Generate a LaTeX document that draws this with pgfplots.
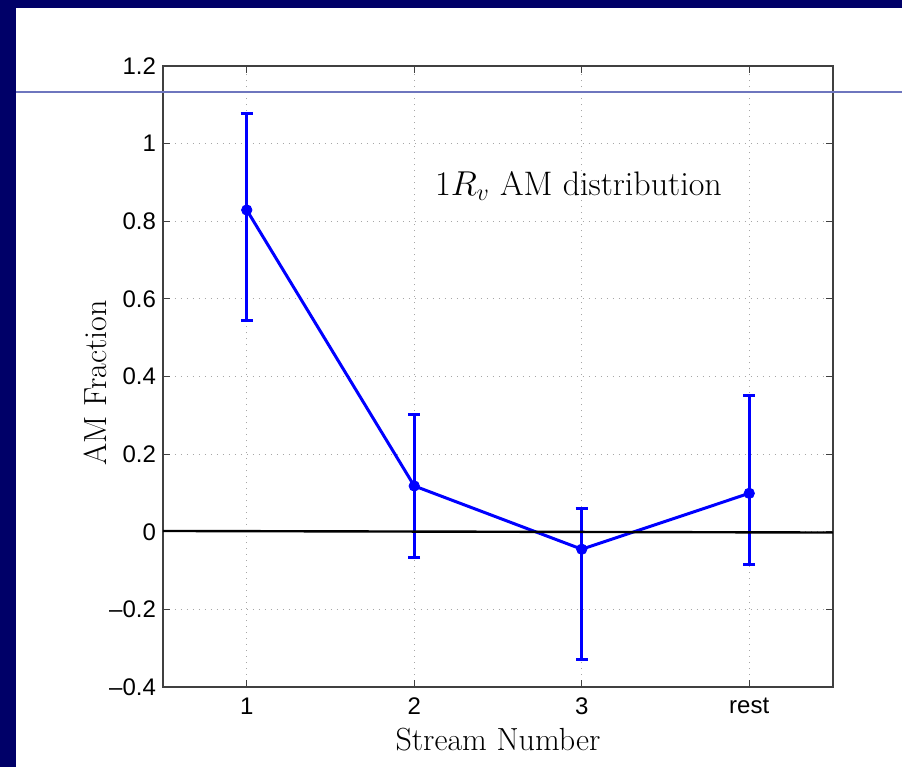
\documentclass[border=0pt]{standalone}
\usepackage{fontspec}
\usepackage{pgfplots}
\pgfplotsset{compat=1.18}
\newfontfamily\helv{Liberation Sans}
\definecolor{navy}{RGB}{0,0,104}
\definecolor{slideline}{RGB}{110,118,190}
\pgfplotstableread{
x y ep em
1 0.829 0.248 0.285
2 0.118 0.185 0.184
3 -0.045 0.105 0.283
4 0.099 0.251 0.183
}\datatable
\begin{document}
\begin{tikzpicture}
\fill[navy] (0,0) rectangle (451pt,383.5pt);
\fill[white] (8pt,0) rectangle (451pt,379.5pt);
\useasboundingbox (0,0) rectangle (451pt,383.5pt);
\begin{axis}[
  at={(81.5pt,40pt)}, anchor=south west,
  scale only axis, width=335pt, height=310.5pt,
  xmin=0.5, xmax=4.5, ymin=-0.4, ymax=1.2,
  xtick={1,2,3,4}, xticklabels={1,2,3,rest},
  ytick={-0.4,-0.2,0,0.2,0.4,0.6,0.8,1,1.2},
  yticklabels={\textendash0.4,\textendash0.2,0,0.2,0.4,0.6,0.8,1,1.2},
  tick label style={font=\helv\fontsize{12}{14}\selectfont},
  xticklabel style={yshift=-2pt},
  tick align=inside, tick pos=both, major tick length=3.5pt,
  tick style={black!75, line width=0.5pt},
  grid=major,
  major grid style={gray!70, dash pattern=on 0.6pt off 2.4pt, line width=0.4pt},
  axis line style={black!75, line width=0.6pt},
  xlabel={Stream Number}, ylabel={AM Fraction},
  label style={font=\fontsize{16}{19}\selectfont},
  xlabel style={at={(axis description cs:0.5,0)}, yshift=-26.5pt, anchor=center},
  ylabel style={at={(axis description cs:-0.1015,0.49)}, anchor=center},
]
\addplot[blue, line width=1.5pt, mark=*, mark size=2.6pt,
  mark options={solid, fill=blue, line width=0.4pt},
  error bars/.cd, y dir=both, y explicit,
  error bar style={line width=1.5pt},
  error mark options={rotate=90, mark size=3pt, line width=1.5pt}]
  table[x=x, y=y, y error plus=ep, y error minus=em] {\datatable};
\addplot[black, line width=1.2pt] coordinates {(0.5,0.002) (4.5,-0.002)};
\node[font=\fontsize{17}{20}\selectfont] at (axis cs:2.98,0.89) {$1R_v$ AM distribution};
\end{axis}
\draw[slideline, line width=0.6pt] (8pt,337.5pt) -- (451pt,337.5pt);
\end{tikzpicture}
\end{document}
